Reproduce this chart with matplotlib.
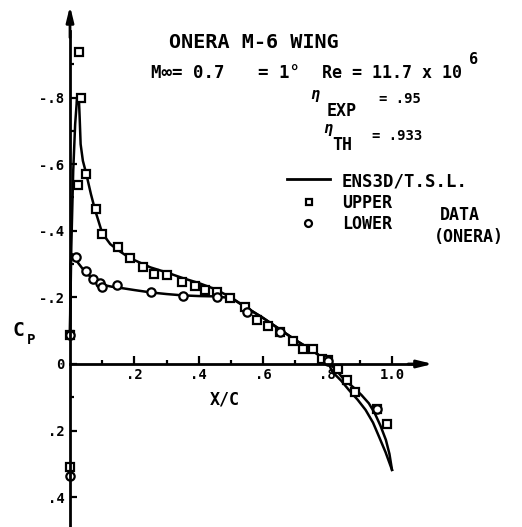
import matplotlib
matplotlib.use("Agg")
import matplotlib.pyplot as plt
from matplotlib.ticker import FixedLocator

# ENS3D / T.S.L. computed pressure distributions
upper_x = [0.0, 0.004, 0.010, 0.016, 0.022, 0.027, 0.030, 0.033, 0.040, 0.050,
           0.065, 0.078, 0.10, 0.125, 0.149, 0.186, 0.25, 0.30, 0.35, 0.40,
           0.45, 0.50, 0.55, 0.60, 0.65, 0.70, 0.75, 0.80, 0.828, 0.852,
           0.880, 0.905, 0.928, 0.946, 0.964, 0.981, 0.992, 1.0]
upper_cp = [-0.10, -0.35, -0.58, -0.72, -0.80, -0.81, -0.74, -0.66, -0.61, -0.573,
            -0.51, -0.462, -0.393, -0.36, -0.342, -0.318, -0.29, -0.275, -0.258, -0.243,
            -0.225, -0.20, -0.168, -0.138, -0.105, -0.072, -0.042, -0.008, 0.020, 0.048,
            0.070, 0.093, 0.118, 0.147, 0.185, 0.228, 0.270, 0.318]
lower_x = [0.0, 0.002, 0.006, 0.02, 0.04, 0.06, 0.08, 0.10, 0.13, 0.16,
           0.20, 0.25, 0.30, 0.35, 0.40, 0.45, 0.50, 0.55, 0.60, 0.65,
           0.70, 0.75, 0.80, 0.815, 0.842, 0.866, 0.893, 0.918, 0.941, 0.960,
           0.980, 1.0]
lower_cp = [-0.10, -0.30, -0.33, -0.31, -0.285, -0.265, -0.25, -0.238, -0.232, -0.228,
            -0.222, -0.215, -0.210, -0.206, -0.204, -0.203, -0.198, -0.168, -0.138, -0.105,
            -0.072, -0.042, -0.008, 0.024, 0.050, 0.078, 0.107, 0.138, 0.176, 0.219,
            0.265, 0.318]

# ONERA experiment, upper surface
upper_data_x = [0.0, 0.0, 0.025, 0.028, 0.034, 0.05, 0.08, 0.10, 0.15, 0.186,
                0.227, 0.26, 0.30, 0.347, 0.388, 0.42, 0.455, 0.497, 0.543, 0.58,
                0.615, 0.652, 0.693, 0.724, 0.755, 0.783, 0.80, 0.833, 0.86, 0.885,
                0.953, 0.985]
upper_data_cp = [-0.087, 0.31, -0.537, -0.937, -0.80, -0.57, -0.465, -0.39, -0.35, -0.318,
                 -0.29, -0.27, -0.267, -0.246, -0.234, -0.222, -0.216, -0.198, -0.171, -0.132,
                 -0.114, -0.097, -0.07, -0.045, -0.045, -0.015, -0.012, 0.015, 0.048, 0.084,
                 0.135, 0.18]
# ONERA experiment, lower surface
lower_data_x = [0.0, 0.0, 0.019, 0.05, 0.071, 0.093, 0.10, 0.146, 0.25, 0.35,
                0.457, 0.55, 0.652, 0.80, 0.953]
lower_data_cp = [-0.087, 0.335, -0.321, -0.279, -0.254, -0.243, -0.23, -0.237, -0.216, -0.204,
                 -0.201, -0.156, -0.097, -0.01, 0.135]

x_major = [0.2, 0.4, 0.6, 0.8, 1.0]
x_major_labels = [".2", ".4", ".6", ".8", "1.0"]
x_minor = [0.1, 0.3, 0.5, 0.7, 0.9]
cp_major = [-0.8, -0.6, -0.4, -0.2, 0.0, 0.2, 0.4]
cp_major_labels = ["-.8", "-.6", "-.4", "-.2", "0", ".2", ".4"]
cp_minor = [-0.9, -0.7, -0.5, -0.3, -0.1, 0.1, 0.3, 0.5]

W, H = 522, 527
plt.rcParams["font.family"] = "DejaVu Sans Mono"
plt.rcParams["font.weight"] = "bold"

fig = plt.figure(figsize=(W / 100, H / 100), dpi=100)
ax = fig.add_axes([0, 0, 1, 1])
ax.set_xlim(-0.2174, 1.4037)
ax.set_ylim(0.4895, -1.093)

# axes drawn through the origin, with arrow heads
for side in ("top", "right"):
    ax.spines[side].set_visible(False)
ax.spines["left"].set_position(("data", 0))
ax.spines["bottom"].set_position(("data", 0))
ax.spines["left"].set_bounds(-1.0, 0.4895)
ax.spines["bottom"].set_bounds(0, 1.07)
for side in ("left", "bottom"):
    ax.spines[side].set_linewidth(2.0)

arrow = dict(arrowstyle="-|>,head_length=0.9,head_width=0.22", color="black",
             lw=2.0, shrinkA=0, shrinkB=0)
ax.annotate("", xy=(0, -1.075), xytext=(0, -0.98), arrowprops=arrow)
ax.annotate("", xy=(1.127, 0), xytext=(1.05, 0), arrowprops=arrow)

ax.xaxis.set_major_locator(FixedLocator(x_major))
ax.xaxis.set_minor_locator(FixedLocator(x_minor))
ax.set_xticklabels(x_major_labels)
ax.yaxis.set_major_locator(FixedLocator(cp_major))
ax.yaxis.set_minor_locator(FixedLocator(cp_minor))
ax.set_yticklabels(cp_major_labels)
ax.tick_params(which="both", direction="in", width=1.6, labelsize=10)
ax.tick_params(axis="x", which="major", length=6, pad=3)
ax.tick_params(axis="x", which="minor", length=3)
ax.tick_params(axis="y", which="major", length=5, pad=4)
ax.tick_params(axis="y", which="minor", length=3)

# computed curves
ax.plot(upper_x, upper_cp, color="black", lw=1.8, solid_joinstyle="round")
ax.plot(lower_x, lower_cp, color="black", lw=1.8, solid_joinstyle="round")

# experimental points
ax.plot(upper_data_x, upper_data_cp, ls="none", marker="s", ms=5.5,
        mfc="white", mec="black", mew=1.6)
ax.plot(lower_data_x, lower_data_cp, ls="none", marker="o", ms=6,
        mfc="white", mec="black", mew=1.6)


def put(px, py, s, size, **kw):
    ax.text(px / W, 1 - py / H, s, transform=ax.transAxes, fontsize=size,
            va="center", **kw)


put(169, 43, "ONERA M-6 WING", 14.5)
put(151, 73, "M\u221e= 0.7", 12.5)
put(258, 73, "= 1\u00b0", 12.5)
put(322, 73, "Re = 11.7 x 10", 12)
put(469, 60, "6", 11)
put(310, 95, "\u03b7", 11, style="italic")
put(327, 111, "EXP", 12)
put(379, 99, "= .95", 10)
put(323, 128, "\u03b7", 11, style="italic")
put(332, 145, "TH", 12)
put(372, 136, "= .933", 10)

put(12, 330, "C", 14)
put(27, 340, "P", 10)
put(210, 399, "X/C", 12)

# legend
ax.plot([287 / W, 330 / W], [1 - 179 / H] * 2, transform=ax.transAxes,
        color="black", lw=2.0)
ax.plot([309 / W], [1 - 202 / H], transform=ax.transAxes, marker="s", ms=4.5,
        mfc="white", mec="black", mew=1.6)
ax.plot([308 / W], [1 - 223 / H], transform=ax.transAxes, marker="o", ms=5,
        mfc="white", mec="black", mew=1.6)
put(342, 181, "ENS3D/T.S.L.", 12.5)
put(342, 203, "UPPER", 12)
put(342, 224, "LOWER", 12)
put(440, 215, "DATA", 12)
put(434, 237, "(ONERA)", 12)

fig.savefig("out.png", dpi=100)
